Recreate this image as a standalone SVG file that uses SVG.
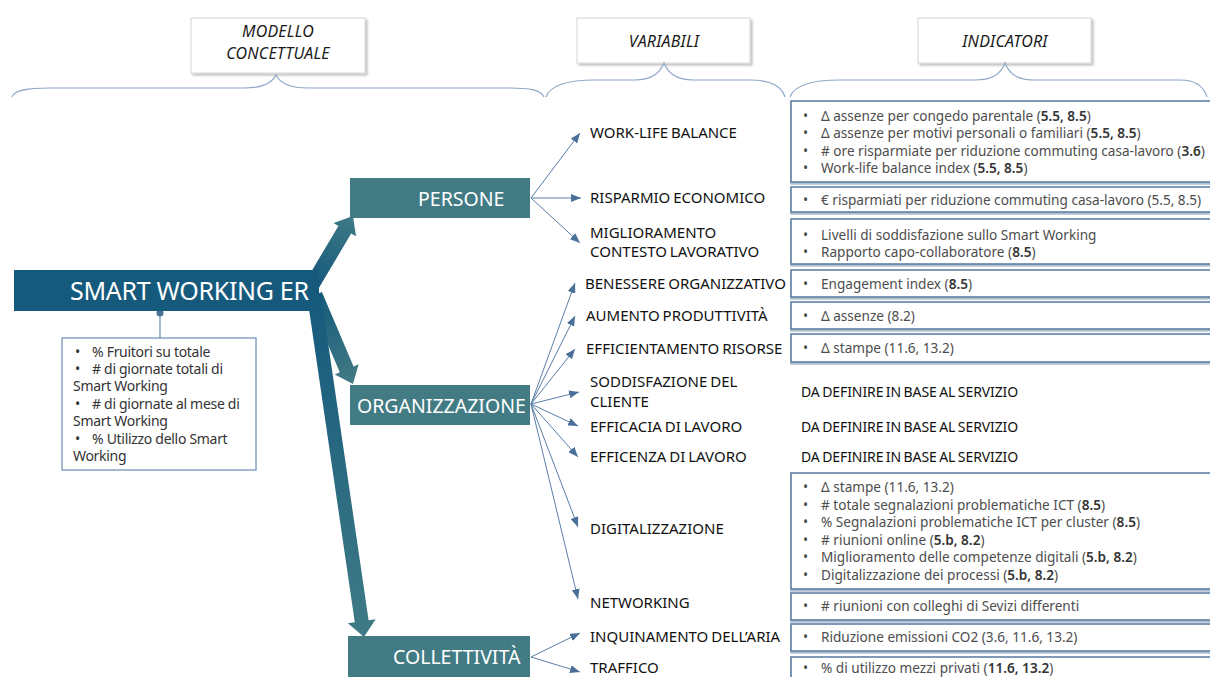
<svg xmlns="http://www.w3.org/2000/svg" width="1210" height="677" viewBox="0 0 1210 677">
<defs>
<style>
text{font-family:"Noto Sans","Open Sans","DejaVu Sans",sans-serif}
.hbox{fill:#fff;stroke:#d6d6d6;stroke-width:1;filter:url(#hsh)}
.hdr{font-style:italic;font-size:16px;fill:#1a1a1a;text-anchor:middle;letter-spacing:0.2px}
.brace{fill:none;stroke:#8fa8c6;stroke-width:1.2}
.main{fill:#15597c}
.cat{fill:#437b85}
.mainlbl{font-size:25px;fill:#fff;letter-spacing:-0.3px}
.catlbl{font-size:19.5px;fill:#fff}
.var{font-size:15px;fill:#111;word-spacing:-1px}
.tbd{font-size:14px;fill:#111;letter-spacing:-0.1px;word-spacing:-1px}
.ibox{fill:#fff;stroke:#55799f;stroke-width:1.5;filter:url(#ish)}
.ind{font-size:13.6px;fill:#4d4d4d}
.num{fill:#333;font-weight:600}
.lbox{fill:#fff;stroke:#6a8db3;stroke-width:1.2}
.ltxt{font-size:14px;fill:#333;letter-spacing:-0.3px}
.conn{stroke:#5a7ea6;stroke-width:1;fill:none;marker-end:url(#ah)}
</style>
<filter id="hsh" x="-10%" y="-10%" width="130%" height="140%">
<feDropShadow dx="2" dy="2" stdDeviation="1.2" flood-color="#000" flood-opacity="0.25"/>
</filter>
<filter id="ish" x="-5%" y="-20%" width="110%" height="160%">
<feDropShadow dx="0" dy="2" stdDeviation="0.6" flood-color="#8ea4bd" flood-opacity="0.7"/>
</filter>
<marker id="ah" markerUnits="userSpaceOnUse" markerWidth="10" markerHeight="8" refX="10" refY="4" orient="auto">
<path d="M0,0 L10,4 L0,8 z" fill="#4a6f98"/>
</marker>
<linearGradient id="g1" gradientUnits="userSpaceOnUse" x1="312" y1="285" x2="353" y2="216">
<stop offset="0" stop-color="#15597c"/><stop offset="1" stop-color="#3f7a86"/>
</linearGradient>
<linearGradient id="g2" gradientUnits="userSpaceOnUse" x1="315" y1="295" x2="353" y2="384">
<stop offset="0" stop-color="#15597c"/><stop offset="1" stop-color="#437b85"/>
</linearGradient>
<linearGradient id="g3" gradientUnits="userSpaceOnUse" x1="314" y1="295" x2="364" y2="637">
<stop offset="0" stop-color="#15597c"/><stop offset="1" stop-color="#3f7a86"/>
</linearGradient>
</defs>
<rect width="1210" height="677" fill="#fff"/>

<g id="header-modello">
<rect class="hbox" x="191" y="18" width="174" height="55"/>
<text class="hdr" x="278" y="37">MODELLO</text>
<text class="hdr" x="278" y="59">CONCETTUALE</text>
</g>
<g id="header-variabili">
<rect class="hbox" x="577" y="18" width="173" height="45"/>
<text class="hdr" x="664" y="47">VARIABILI</text>
</g>
<g id="header-indicatori">
<rect class="hbox" x="918" y="18" width="173" height="45"/>
<text class="hdr" x="1005" y="47">INDICATORI</text>
</g>
<g id="braces">
<path class="brace" d="M12,97 C14,90 28,88 50,88 L245,88 C262,88 272,83 276,75 C280,83 290,88 308,88 L510,88 C530,88 541,90 544,97"/>
<path class="brace" d="M546,97 C550,86 566,80 595,80 L635,80 C652,80 660,73 664,63 C668,73 676,80 693,80 L750,80 C772,80 782,87 785,97"/>
<path class="brace" d="M790,97 C794,86 810,80 840,80 L975,80 C994,80 1001,73 1005,63 C1009,73 1016,80 1035,80 L1180,80 C1196,80 1204,87 1207,97"/>
</g>

<g id="connectors">
<polygon fill="url(#g1)" points="305.6,281.2 338.4,225.9 333.6,223.1 353,216 356,236.3 351.2,233.5 318.4,288.8"/>
<polygon fill="url(#g2)" points="321.9,292.1 353.6,366.4 358.6,364.2 353,384 334.8,374.4 339.8,372.2 308.1,297.9"/>
<polygon fill="url(#g3)" points="320.9,294 368.6,620.2 375.6,619.2 364,637 347.9,623.2 354.8,622.2 307.1,296"/>
<line x1="160" y1="313" x2="160" y2="338" stroke="#6a8db3" stroke-width="1.2"/>
<circle cx="160" cy="313" r="3.5" fill="#4f7398"/>
<line class="conn" x1="531" y1="198" x2="580" y2="133"/>
<line class="conn" x1="531" y1="198" x2="581" y2="198"/>
<line class="conn" x1="531" y1="198" x2="580" y2="243"/>
<line class="conn" x1="531" y1="404" x2="575" y2="283"/>
<line class="conn" x1="531" y1="404" x2="575" y2="316"/>
<line class="conn" x1="531" y1="404" x2="575" y2="349"/>
<line class="conn" x1="531" y1="404" x2="579" y2="392"/>
<line class="conn" x1="531" y1="404" x2="578" y2="426"/>
<line class="conn" x1="531" y1="404" x2="578" y2="457"/>
<line class="conn" x1="531" y1="404" x2="578" y2="527"/>
<line class="conn" x1="531" y1="404" x2="578" y2="599"/>
<line class="conn" x1="531" y1="657" x2="580" y2="633"/>
<line class="conn" x1="531" y1="657" x2="580" y2="672"/>
</g>

<g id="node-smart-working">
<rect class="main" x="14" y="270" width="305" height="41"/>
<text class="mainlbl" x="70" y="300">SMART WORKING ER</text>
</g>
<g id="node-sw-indicatori">
<rect class="lbox" x="62" y="338" width="194" height="132"/>
<text class="ltxt" y="357"><tspan x="75">•</tspan><tspan x="92">% Fruitori su totale</tspan></text>
<text class="ltxt" y="374"><tspan x="75">•</tspan><tspan x="92"># di giornate totali di</tspan></text>
<text class="ltxt" x="73" y="391">Smart Working</text>
<text class="ltxt" y="409"><tspan x="75">•</tspan><tspan x="92"># di giornate al mese di</tspan></text>
<text class="ltxt" x="73" y="426">Smart Working</text>
<text class="ltxt" y="444"><tspan x="75">•</tspan><tspan x="92">% Utilizzo dello Smart</tspan></text>
<text class="ltxt" x="73" y="461">Working</text>
</g>
<g id="node-persone">
<rect class="cat" x="350" y="178" width="180" height="40"/>
<text class="catlbl" x="418" y="206">PERSONE</text>
</g>
<g id="node-organizzazione">
<rect class="cat" x="350" y="385" width="180" height="40"/>
<text class="catlbl" x="357" y="413">ORGANIZZAZIONE</text>
</g>
<g id="node-collettivita">
<rect class="cat" x="348" y="636" width="182" height="45"/>
<text class="catlbl" x="393" y="664">COLLETTIVITÀ</text>
</g>

<g id="var-wlb"><text class="var" x="590" y="138">WORK-LIFE BALANCE</text></g>
<g id="var-risparmio"><text class="var" x="590" y="203">RISPARMIO ECONOMICO</text></g>
<g id="var-miglioramento"><text class="var" x="590" y="238">MIGLIORAMENTO</text><text class="var" x="590" y="257">CONTESTO LAVORATIVO</text></g>
<g id="var-benessere"><text class="var" x="585" y="289">BENESSERE ORGANIZZATIVO</text></g>
<g id="var-aumento"><text class="var" x="586" y="321">AUMENTO PRODUTTIVITÀ</text></g>
<g id="var-efficientamento"><text class="var" x="586" y="354">EFFICIENTAMENTO RISORSE</text></g>
<g id="var-soddisfazione"><text class="var" x="590" y="387">SODDISFAZIONE DEL</text><text class="var" x="590" y="407">CLIENTE</text></g>
<g id="var-efficacia"><text class="var" x="590" y="432">EFFICACIA DI LAVORO</text></g>
<g id="var-efficenza"><text class="var" x="590" y="462">EFFICENZA DI LAVORO</text></g>
<g id="var-digitalizzazione"><text class="var" x="590" y="534">DIGITALIZZAZIONE</text></g>
<g id="var-networking"><text class="var" x="590" y="608">NETWORKING</text></g>
<g id="var-inquinamento"><text class="var" x="590" y="642">INQUINAMENTO DELL’ARIA</text></g>
<g id="var-traffico"><text class="var" x="590" y="673">TRAFFICO</text></g>

<g id="ind-wlb">
<rect class="ibox" x="791" y="101" width="440" height="81"/>
<text class="ind" y="120.5"><tspan x="803">•</tspan><tspan x="821">Δ assenze per congedo parentale (</tspan><tspan class="num">5.5, 8.5</tspan><tspan>)</tspan></text>
<text class="ind" y="138"><tspan x="803">•</tspan><tspan x="821">Δ assenze per motivi personali o familiari (</tspan><tspan class="num">5.5, 8.5</tspan><tspan>)</tspan></text>
<text class="ind" y="155.5"><tspan x="803">•</tspan><tspan x="821"># ore risparmiate per riduzione commuting casa-lavoro (</tspan><tspan class="num">3.6</tspan><tspan>)</tspan></text>
<text class="ind" y="173"><tspan x="803">•</tspan><tspan x="821">Work-life balance index (</tspan><tspan class="num">5.5, 8.5</tspan><tspan>)</tspan></text>
</g>
<g id="ind-risparmio">
<rect class="ibox" x="791" y="187" width="440" height="25"/>
<text class="ind" y="204.5"><tspan x="803">•</tspan><tspan x="821">€ risparmiati per riduzione commuting casa-lavoro (5.5, 8.5)</tspan></text>
</g>
<g id="ind-miglioramento">
<rect class="ibox" x="791" y="219" width="440" height="45"/>
<text class="ind" y="239.5"><tspan x="803">•</tspan><tspan x="821">Livelli di soddisfazione sullo Smart Working</tspan></text>
<text class="ind" y="257"><tspan x="803">•</tspan><tspan x="821">Rapporto capo-collaboratore (</tspan><tspan class="num">8.5</tspan><tspan>)</tspan></text>
</g>
<g id="ind-benessere">
<rect class="ibox" x="791" y="270" width="440" height="27"/>
<text class="ind" y="288.5"><tspan x="803">•</tspan><tspan x="821">Engagement index (</tspan><tspan class="num">8.5</tspan><tspan>)</tspan></text>
</g>
<g id="ind-aumento">
<rect class="ibox" x="791" y="302" width="440" height="27"/>
<text class="ind" y="320.5"><tspan x="803">•</tspan><tspan x="821">Δ assenze (8.2)</tspan></text>
</g>
<g id="ind-efficientamento">
<rect class="ibox" x="791" y="334" width="440" height="28"/>
<text class="ind" y="353"><tspan x="803">•</tspan><tspan x="821">Δ stampe (11.6, 13.2)</tspan></text>
</g>
<g id="ind-soddisfazione"><text class="tbd" x="801" y="397">DA DEFINIRE IN BASE AL SERVIZIO</text></g>
<g id="ind-efficacia"><text class="tbd" x="801" y="432">DA DEFINIRE IN BASE AL SERVIZIO</text></g>
<g id="ind-efficenza"><text class="tbd" x="801" y="462">DA DEFINIRE IN BASE AL SERVIZIO</text></g>
<g id="ind-digitalizzazione">
<rect class="ibox" x="791" y="473" width="440" height="116"/>
<text class="ind" y="492"><tspan x="803">•</tspan><tspan x="821">Δ stampe (11.6, 13.2)</tspan></text>
<text class="ind" y="509.5"><tspan x="803">•</tspan><tspan x="821"># totale segnalazioni problematiche ICT (</tspan><tspan class="num">8.5</tspan><tspan>)</tspan></text>
<text class="ind" y="527"><tspan x="803">•</tspan><tspan x="821">% Segnalazioni problematiche ICT per cluster (</tspan><tspan class="num">8.5</tspan><tspan>)</tspan></text>
<text class="ind" y="544.5"><tspan x="803">•</tspan><tspan x="821"># riunioni online (</tspan><tspan class="num">5.b, 8.2</tspan><tspan>)</tspan></text>
<text class="ind" y="562"><tspan x="803">•</tspan><tspan x="821">Miglioramento delle competenze digitali (</tspan><tspan class="num">5.b, 8.2</tspan><tspan>)</tspan></text>
<text class="ind" y="579.5"><tspan x="803">•</tspan><tspan x="821">Digitalizzazione dei processi (</tspan><tspan class="num">5.b, 8.2</tspan><tspan>)</tspan></text>
</g>
<g id="ind-networking">
<rect class="ibox" x="791" y="593" width="440" height="27"/>
<text class="ind" y="611"><tspan x="803">•</tspan><tspan x="821"># riunioni con colleghi di Sevizi differenti</tspan></text>
</g>
<g id="ind-inquinamento">
<rect class="ibox" x="791" y="624" width="440" height="27"/>
<text class="ind" y="642"><tspan x="803">•</tspan><tspan x="821">Riduzione emissioni CO2 (3.6, 11.6, 13.2)</tspan></text>
</g>
<g id="ind-traffico">
<rect class="ibox" x="791" y="657" width="440" height="40"/>
<text class="ind" y="673"><tspan x="803">•</tspan><tspan x="821">% di utilizzo mezzi privati (</tspan><tspan class="num">11.6, 13.2</tspan><tspan>)</tspan></text>
</g>
</svg>
